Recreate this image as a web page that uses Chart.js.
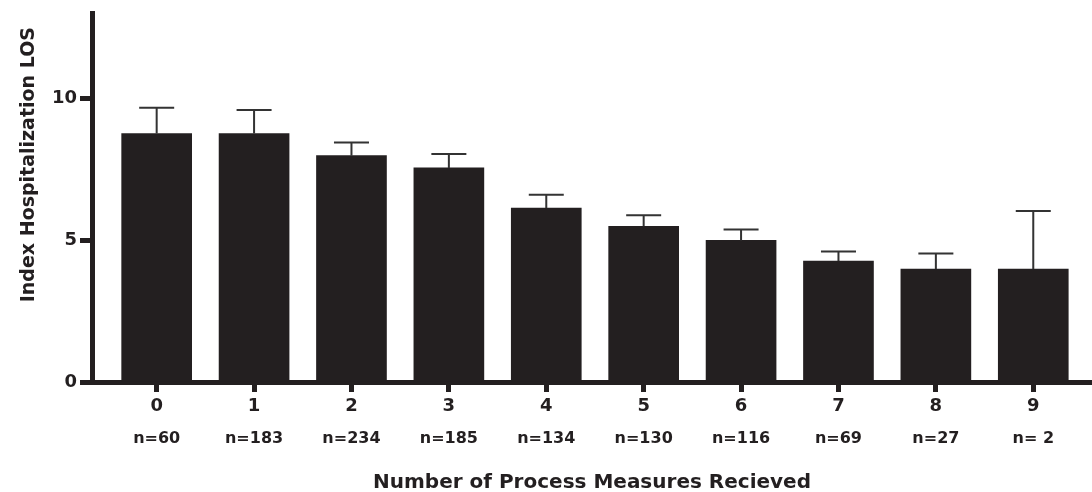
<!DOCTYPE html>
<html>
<head>
<meta charset="utf-8">
<script src="https://cdn.jsdelivr.net/npm/chart.js@4.4.1/dist/chart.umd.min.js"></script>
<style>
  body { margin: 0; background: #fff; }
  #wrap { width: 1092px; height: 492px; }
</style>
</head>
<body>
<div id="wrap"><canvas id="losChart"></canvas></div>
<script>
const categories = ["0", "1", "2", "3", "4", "5", "6", "7", "8", "9"];
const nLabels = ["n=60", "n=183", "n=234", "n=185", "n=134", "n=130", "n=116", "n=69", "n=27", "n= 2"];
const losMean = [8.77, 8.77, 7.99, 7.56, 6.14, 5.50, 5.00, 4.27, 3.99, 3.99];
const losErrUp = [0.91, 0.83, 0.47, 0.49, 0.47, 0.39, 0.38, 0.34, 0.55, 2.05];
const yTicks = [0, 5, 10];

const ink = "#231f20";
const fontFam = "'DejaVu Sans', 'Liberation Sans', Arial, sans-serif";

// upper error bars, drawn from the y scale
const errorBars = {
  id: "errorBars",
  afterDatasetsDraw(chart) {
    const ctx = chart.ctx;
    const yScale = chart.scales.y;
    const meta = chart.getDatasetMeta(0);
    ctx.save();
    ctx.strokeStyle = "#333";
    ctx.lineWidth = 2;
    meta.data.forEach((bar, i) => {
      const top = yScale.getPixelForValue(losMean[i] + losErrUp[i]);
      ctx.beginPath();
      ctx.moveTo(bar.x, bar.y);
      ctx.lineTo(bar.x, top);
      ctx.moveTo(bar.x - 17.5, top);
      ctx.lineTo(bar.x + 17.5, top);
      ctx.stroke();
    });
    ctx.restore();
  }
};

const fixedTicks = scale => {
  scale.ticks = categories.map((c, i) => ({ value: i }));
};

new Chart(document.getElementById("losChart"), {
  type: "bar",
  data: {
    datasets: [{
      data: losMean.map((v, i) => ({ x: i, y: v })),
      backgroundColor: ink,
      barThickness: 70
    }]
  },
  options: {
    responsive: true,
    maintainAspectRatio: false,
    animation: false,
    layout: { padding: 0 },
    plugins: {
      legend: { display: false },
      tooltip: { enabled: false }
    },
    scales: {
      x: {
        type: "linear",
        offset: false,
        min: -0.664,
        max: 9.603,
        afterBuildTicks: fixedTicks,
        afterFit: s => { s.height = 33; },
        grid: { offset: false, drawOnChartArea: false, tickLength: 10, tickWidth: 5, tickColor: ink },
        border: { color: ink, width: 5 },
        ticks: {
          color: ink,
          padding: 4,
          font: { family: fontFam, size: 18, weight: "bold" },
          callback: (v, i) => categories[i]
        }
      },
      x2: {
        type: "linear",
        position: "bottom",
        weight: 1,
        offset: false,
        min: -0.664,
        max: 9.603,
        afterBuildTicks: fixedTicks,
        afterFit: s => { s.height = 77; },
        grid: { display: false, offset: false },
        border: { display: false },
        ticks: {
          color: ink,
          padding: 6,
          font: { family: fontFam, size: 16, weight: "bold" },
          callback: (v, i) => nLabels[i]
        },
        title: {
          display: true,
          text: "Number of Process Measures Recieved",
          color: ink,
          padding: { top: 0, bottom: -3 },
          font: { family: fontFam, size: 20, weight: "bold" }
        }
      },
      y: {
        min: 0,
        max: 13,
        afterBuildTicks: s => { s.ticks = yTicks.map(v => ({ value: v })); },
        afterFit: s => { s.width = 92; },
        grid: { drawOnChartArea: false, tickLength: 12, tickWidth: 5, tickColor: ink },
        border: { color: ink, width: 5 },
        ticks: {
          color: ink,
          padding: 3,
          font: { family: fontFam, size: 18, weight: "bold" }
        },
        title: {
          display: true,
          text: "Index Hospitalization LOS  ",
          align: "end",
          color: ink,
          padding: { top: 18, bottom: 0 },
          font: { family: fontFam, size: 19, weight: "bold" }
        }
      }
    }
  },
  plugins: [errorBars]
});
</script>
</body>
</html>
